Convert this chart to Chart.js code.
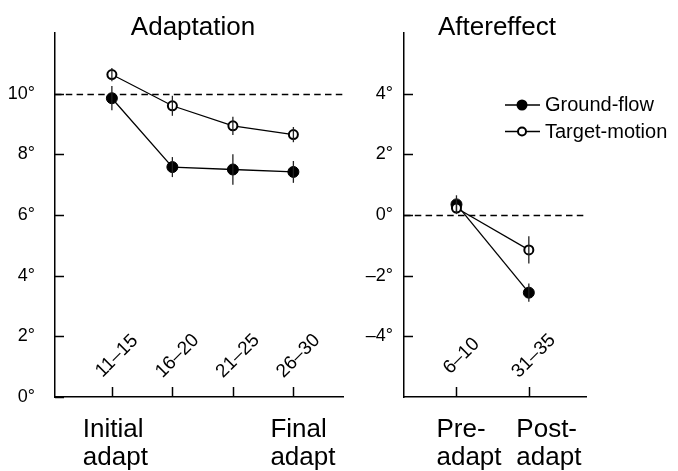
<!DOCTYPE html>
<html>
<head>
<meta charset="utf-8">
<script src="https://cdn.jsdelivr.net/npm/chart.js@4.4.1/dist/chart.umd.min.js"></script>
<style>
body { margin: 0; background: #fff; }
#wrap { position: relative; width: 678px; height: 471px; }
#leftBox { position: absolute; left: 0; top: 0; width: 345px; height: 471px; }
#rightBox { position: absolute; left: 345px; top: 0; width: 333px; height: 471px; }
</style>
</head>
<body>
<div id="wrap">
  <div id="leftBox"><canvas id="adaptChart"></canvas></div>
  <div id="rightBox"><canvas id="afterChart"></canvas></div>
</div>
<script>
// ---- data ----
var seriesNames = ['Ground-flow', 'Target-motion'];

var adaptBlocks = ['11\u201315', '16\u201320', '21\u201325', '26\u201330'];
var adaptPhases = [['Initial', 'adapt'], null, null, ['Final', 'adapt']];
var adaptGround = [9.85, 7.58, 7.5, 7.42];
var adaptGroundErr = [0.4, 0.33, 0.5, 0.36];
var adaptTarget = [10.63, 9.6, 8.94, 8.65];
var adaptTargetErr = [0.22, 0.33, 0.3, 0.25];
var adaptTicks = [0, 2, 4, 6, 8, 10];

var afterBlocks = ['6\u201310', '31\u201335'];
var afterPhases = [['Pre-', 'adapt'], ['Post-', 'adapt']];
var afterGround = [0.35, -2.56];
var afterGroundErr = [0.3, 0.3];
var afterTarget = [0.23, -1.15];
var afterTargetErr = [0.2, 0.45];
var afterTicks = [-4, -2, 0, 2, 4];

var FONT = '"Liberation Sans", Arial, Helvetica, sans-serif';

function degLabel(v) {
    return (v < 0 ? '\u2013' + Math.abs(v) : v) + '\u00b0';
}

function dataPoints(vals) {
    return vals.map(function (v, i) { return { x: i, y: v }; });
}

function makePanel(canvasId, cfg) {
    var panelPlugin = {
        id: 'panel_' + canvasId,
        beforeDatasetsDraw: function (chart) {
            var c = chart.ctx, a = chart.chartArea;
            var xs = chart.scales.x, ys = chart.scales.y;
            c.save();
            // dashed reference line
            var ry = Math.round(ys.getPixelForValue(cfg.refLine)) + 0.5;
            c.strokeStyle = '#000';
            c.lineWidth = 1.3;
            c.setLineDash([6.5, 4.3]);
            c.beginPath();
            c.moveTo(a.left, ry);
            c.lineTo(a.right, ry);
            c.stroke();
            c.setLineDash([]);
            // inward tick marks
            c.lineWidth = 1.5;
            cfg.ticks.forEach(function (v) {
                var y = Math.round(ys.getPixelForValue(v)) + 0.5;
                c.beginPath();
                c.moveTo(a.left, y);
                c.lineTo(a.left + 9, y);
                c.stroke();
            });
            cfg.blocks.forEach(function (b, i) {
                var x = Math.round(xs.getPixelForValue(i)) + 0.5;
                c.beginPath();
                c.moveTo(x, a.bottom);
                c.lineTo(x, a.bottom - 10);
                c.stroke();
            });
            // rotated block labels
            c.fillStyle = '#000';
            c.font = '19px ' + FONT;
            c.textAlign = 'center';
            c.textBaseline = 'middle';
            cfg.blocks.forEach(function (b, i) {
                c.save();
                c.translate(xs.getPixelForValue(i) + 5, a.bottom - 41);
                c.rotate(-Math.PI / 4);
                c.fillText(b, 0, 0);
                c.restore();
            });
            // phase labels under the axis
            c.font = '26px ' + FONT;
            c.textAlign = 'left';
            c.textBaseline = 'alphabetic';
            cfg.phases.forEach(function (p, i) {
                if (!p) return;
                var x = xs.getPixelForValue(i) + cfg.phaseDx[i];
                c.fillText(p[0], x, a.bottom + 40);
                c.fillText(p[1], x, a.bottom + 68);
            });
            // panel title
            c.font = '26px ' + FONT;
            c.textAlign = 'center';
            c.fillText(cfg.title, (a.left + a.right) / 2 + cfg.titleDx, 35);
            c.restore();
        },
        afterDatasetsDraw: function (chart) {
            var c = chart.ctx, xs = chart.scales.x, ys = chart.scales.y;
            c.save();
            c.strokeStyle = '#222';
            c.lineWidth = 1.3;
            chart.data.datasets.forEach(function (ds) {
                ds.data.forEach(function (p, i) {
                    var e = ds.errors[i];
                    var x = xs.getPixelForValue(p.x);
                    c.beginPath();
                    c.moveTo(x, ys.getPixelForValue(p.y + e));
                    c.lineTo(x, ys.getPixelForValue(p.y - e));
                    c.stroke();
                });
            });
            c.restore();
        },
        afterDraw: function (chart) {
            if (!cfg.legend) return;
            var c = chart.ctx, a = chart.chartArea;
            var lx = a.left + 101, ly = a.top + 72;
            c.save();
            c.strokeStyle = '#000';
            c.fillStyle = '#000';
            c.font = '20px ' + FONT;
            c.textAlign = 'left';
            c.textBaseline = 'alphabetic';
            seriesNames.forEach(function (name, k) {
                var y = ly + k * 26.5;
                c.lineWidth = 1.3;
                c.beginPath();
                c.moveTo(lx, y);
                c.lineTo(lx + 35, y);
                c.stroke();
                c.beginPath();
                if (k === 0) {
                    c.arc(lx + 17, y, 5.5, 0, Math.PI * 2);
                    c.fill();
                } else {
                    c.arc(lx + 17, y, 4, 0, Math.PI * 2);
                    c.fillStyle = '#fff';
                    c.fill();
                    c.lineWidth = 2;
                    c.stroke();
                    c.fillStyle = '#000';
                }
                c.fillText(name, lx + 40, y + 6);
            });
            c.restore();
        }
    };

    var ctx = document.getElementById(canvasId).getContext('2d');
    return new Chart(ctx, {
        type: 'line',
        data: {
            datasets: [
                {
                    label: seriesNames[0],
                    data: dataPoints(cfg.ground),
                    errors: cfg.groundErr,
                    borderColor: '#000',
                    borderWidth: 1.3,
                    pointRadius: 5.5,
                    pointBackgroundColor: '#000',
                    pointBorderColor: '#000',
                    pointBorderWidth: 1,
                    fill: false,
                    order: 1
                },
                {
                    label: seriesNames[1],
                    data: dataPoints(cfg.target),
                    errors: cfg.targetErr,
                    borderColor: '#000',
                    borderWidth: 1.2,
                    pointRadius: 4.5,
                    pointBackgroundColor: '#fff',
                    pointBorderColor: '#000',
                    pointBorderWidth: 2,
                    fill: false,
                    order: 0
                }
            ]
        },
        options: {
            responsive: true,
            maintainAspectRatio: false,
            animation: false,
            events: [],
            layout: {
                autoPadding: false,
                padding: { top: 33, right: cfg.padRight, left: 0, bottom: 0 }
            },
            plugins: { legend: { display: false }, tooltip: { enabled: false } },
            scales: {
                x: {
                    type: 'linear',
                    min: cfg.xMin,
                    max: cfg.xMax,
                    grid: { display: false, drawTicks: false },
                    border: { color: '#000', width: 1.5 },
                    ticks: { display: false },
                    afterFit: function (s) {
                        s.height = 74;
                        s.paddingLeft = 0;
                        s.paddingRight = 0;
                    }
                },
                y: {
                    type: 'linear',
                    min: cfg.yMin,
                    max: cfg.yMax,
                    grid: { display: false, drawTicks: false },
                    border: { color: '#000', width: 1.5 },
                    ticks: {
                        color: '#000',
                        font: { family: FONT, size: 18 },
                        padding: cfg.labelPad,
                        callback: degLabel
                    },
                    afterBuildTicks: function (s) {
                        s.ticks = cfg.ticks.map(function (v) { return { value: v }; });
                    },
                    afterFit: function (s) {
                        s.width = cfg.axisWidth;
                        s.paddingTop = 0;
                        s.paddingBottom = 0;
                    }
                }
            }
        },
        plugins: [panelPlugin]
    });
}

makePanel('adaptChart', {
    title: 'Adaptation', titleDx: -6,
    blocks: adaptBlocks, phases: adaptPhases, phaseDx: [-29, 0, 0, -23],
    ground: adaptGround, groundErr: adaptGroundErr,
    target: adaptTarget, targetErr: adaptTargetErr,
    ticks: adaptTicks, yMin: 0, yMax: 12, refLine: 10,
    xMin: -0.94, xMax: 3.82,
    axisWidth: 55, labelPad: 20, padRight: 2, legend: false
});

makePanel('afterChart', {
    title: 'Aftereffect', titleDx: 2,
    blocks: afterBlocks, phases: afterPhases, phaseDx: [-20, -12.5],
    ground: afterGround, groundErr: afterGroundErr,
    target: afterTarget, targetErr: afterTargetErr,
    ticks: afterTicks, yMin: -6, yMax: 6, refLine: 0,
    xMin: -0.725, xMax: 1.79,
    axisWidth: 59, labelPad: 11, padRight: 92, legend: true
});
</script>
</body>
</html>
